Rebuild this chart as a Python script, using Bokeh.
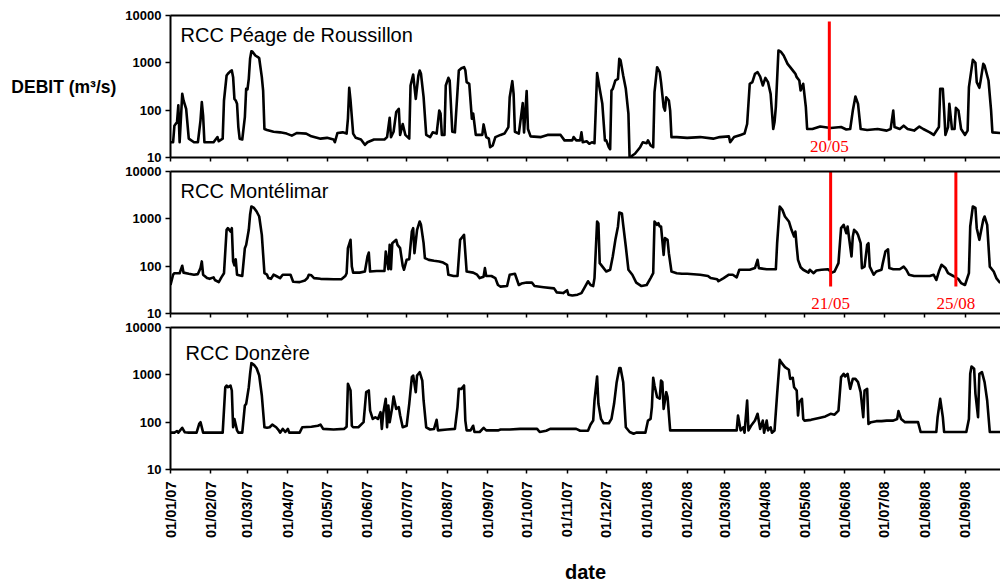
import math
import pandas as pd
from bokeh.plotting import figure
from bokeh.models import (ColumnDataSource, FixedTicker, DatetimeTickFormatter,
                          DatetimeAxis, Label, Range1d, BasicTickFormatter)
from bokeh.layouts import column
from bokeh.embed import file_html
from bokeh.resources import INLINE

# ---------------- data ----------------
station_names = ["RCC Péage de Roussillon", "RCC Montélimar", "RCC Donzère"]
y_label = "DEBIT (m³/s)"
x_label = "date"
y_ticks = [10, 100, 1000, 10000]
tick_dates = ["2007-01-01", "2007-02-01", "2007-03-01", "2007-04-01", "2007-05-01",
              "2007-06-01", "2007-07-01", "2007-08-01", "2007-09-01", "2007-10-01",
              "2007-11-01", "2007-12-01", "2008-01-01", "2008-02-01", "2008-03-01",
              "2008-04-01", "2008-05-01", "2008-06-01", "2008-07-01", "2008-08-01",
              "2008-09-01"]

peage_dates = [
    "2007-01-01", "2007-01-03", "2007-01-04", "2007-01-06", "2007-01-07", "2007-01-08", "2007-01-10", "2007-01-11",
    "2007-01-13", "2007-01-15", "2007-01-19", "2007-01-22", "2007-01-24", "2007-01-25", "2007-01-26", "2007-01-27",
    "2007-02-03", "2007-02-06", "2007-02-07", "2007-02-10", "2007-02-11", "2007-02-13", "2007-02-14", "2007-02-16",
    "2007-02-17", "2007-02-18", "2007-02-19", "2007-02-20", "2007-02-21", "2007-02-22", "2007-02-23", "2007-02-25",
    "2007-02-27", "2007-02-28", "2007-03-01", "2007-03-02", "2007-03-03", "2007-03-04", "2007-03-05", "2007-03-07",
    "2007-03-09", "2007-03-10", "2007-03-12", "2007-03-13", "2007-03-14", "2007-03-16", "2007-03-21", "2007-03-26",
    "2007-03-31", "2007-04-04", "2007-04-08", "2007-04-15", "2007-04-19", "2007-04-26", "2007-05-01", "2007-05-06",
    "2007-05-07", "2007-05-09", "2007-05-13", "2007-05-16", "2007-05-17", "2007-05-18", "2007-05-19", "2007-05-21",
    "2007-05-23", "2007-05-27", "2007-05-30", "2007-06-01", "2007-06-06", "2007-06-14", "2007-06-16", "2007-06-18",
    "2007-06-19", "2007-06-21", "2007-06-23", "2007-06-25", "2007-06-26", "2007-06-28", "2007-06-30", "2007-07-03",
    "2007-07-04", "2007-07-06", "2007-07-08", "2007-07-10", "2007-07-11", "2007-07-12", "2007-07-14", "2007-07-16",
    "2007-07-19", "2007-07-21", "2007-07-24", "2007-07-26", "2007-07-27", "2007-07-28", "2007-07-30", "2007-07-31",
    "2007-08-02", "2007-08-03", "2007-08-05", "2007-08-07", "2007-08-10", "2007-08-12", "2007-08-14", "2007-08-15",
    "2007-08-16", "2007-08-18", "2007-08-20", "2007-08-21", "2007-08-23", "2007-08-28", "2007-08-29", "2007-08-31",
    "2007-09-02", "2007-09-03", "2007-09-05", "2007-09-07", "2007-09-11", "2007-09-14", "2007-09-17", "2007-09-18",
    "2007-09-20", "2007-09-21", "2007-09-22", "2007-09-25", "2007-09-28", "2007-09-29", "2007-10-01", "2007-10-02",
    "2007-10-04", "2007-10-12", "2007-10-17", "2007-10-27", "2007-10-30", "2007-11-05", "2007-11-06", "2007-11-08",
    "2007-11-11", "2007-11-12", "2007-11-13", "2007-11-16", "2007-11-18", "2007-11-20", "2007-11-22", "2007-11-23",
    "2007-11-24", "2007-11-26", "2007-11-28", "2007-11-30", "2007-12-01", "2007-12-03", "2007-12-04", "2007-12-05",
    "2007-12-06", "2007-12-08", "2007-12-10", "2007-12-11", "2007-12-12", "2007-12-14", "2007-12-16", "2007-12-18",
    "2007-12-19", "2007-12-21", "2007-12-23", "2007-12-27", "2007-12-29", "2008-01-01", "2008-01-02", "2008-01-04",
    "2008-01-06", "2008-01-07", "2008-01-09", "2008-01-11", "2008-01-12", "2008-01-14", "2008-01-15", "2008-01-16",
    "2008-01-18", "2008-01-19", "2008-01-20", "2008-01-24", "2008-02-01", "2008-02-11", "2008-02-21", "2008-02-26",
    "2008-03-04", "2008-03-05", "2008-03-08", "2008-03-13", "2008-03-16", "2008-03-18", "2008-03-20", "2008-03-22",
    "2008-03-24", "2008-03-26", "2008-03-28", "2008-03-30", "2008-04-01", "2008-04-03", "2008-04-05", "2008-04-07",
    "2008-04-08", "2008-04-09", "2008-04-11", "2008-04-13", "2008-04-15", "2008-04-18", "2008-04-20", "2008-04-23",
    "2008-04-24", "2008-04-25", "2008-04-27", "2008-04-28", "2008-04-30", "2008-05-02", "2008-05-03", "2008-05-07",
    "2008-05-13", "2008-05-21", "2008-05-29", "2008-06-02", "2008-06-05", "2008-06-07", "2008-06-09", "2008-06-11",
    "2008-06-13", "2008-06-18", "2008-06-26", "2008-07-03", "2008-07-06", "2008-07-08", "2008-07-09", "2008-07-13",
    "2008-07-16", "2008-07-19", "2008-07-24", "2008-07-28", "2008-07-31", "2008-08-05", "2008-08-08", "2008-08-12",
    "2008-08-13", "2008-08-15", "2008-08-16", "2008-08-17", "2008-08-19", "2008-08-20", "2008-08-22", "2008-08-24",
    "2008-08-25", "2008-08-27", "2008-08-29", "2008-09-01", "2008-09-03", "2008-09-04", "2008-09-06", "2008-09-07",
    "2008-09-09", "2008-09-10", "2008-09-12", "2008-09-13", "2008-09-15", "2008-09-16", "2008-09-19", "2008-09-21",
    "2008-09-22", "2008-09-28"]
peage_flow = [
    21, 21, 47, 56, 126, 21, 221, 160,
    107, 25, 21, 21, 61, 148, 77, 21,
    21, 27, 22, 25, 160, 540, 587, 667,
    690, 498, 173, 160, 136, 44, 25, 24,
    71, 282, 275, 459, 1216, 1762, 1700, 1429,
    1324, 1250, 498, 260, 40, 38, 35, 34,
    32, 29, 33, 32, 28, 25, 26, 24,
    21, 33, 34, 32, 66, 297, 160, 32,
    26, 24, 18.5, 21, 24, 24, 27, 69,
    27, 35, 91, 107, 30, 51, 30, 25,
    332, 567, 173, 540, 690, 587, 188, 30,
    27, 34, 32, 98, 85, 30, 30, 332,
    482, 424, 35, 34, 690, 771, 812, 700,
    391, 360, 66, 85, 30, 30, 50, 27,
    25, 16.5, 18, 27, 30, 32, 44, 188,
    410, 221, 35, 32, 141, 34, 252, 40,
    28, 27, 30, 30, 23, 23, 27, 23,
    23, 34, 21, 22, 19.5, 21, 20, 107,
    605, 282, 136, 23, 23, 16.5, 15, 260,
    282, 424, 460, 1216, 1127, 540, 282, 84,
    8, 11, 12, 16.5, 21, 20, 23, 18,
    16.5, 240, 809, 635, 391, 116, 98, 188,
    160, 98, 27, 27, 26, 27, 25, 27,
    28, 21, 27, 30, 32, 51, 360, 391,
    587, 635, 512, 332, 480, 391, 221, 40,
    56, 116, 1824, 1700, 1429, 952, 812, 635,
    587, 498, 424, 260, 360, 116, 40, 40,
    45, 42, 44, 39, 40, 98, 194, 136,
    40, 38, 40, 37, 40, 98, 44, 40,
    47, 40, 37, 45, 40, 34, 30, 44,
    282, 282, 98, 30, 44, 136, 40, 40,
    112, 98, 40, 30, 37, 306, 747, 1155,
    1000, 391, 297, 424, 952, 880, 424, 98,
    34, 33]

montelimar_dates = [
    "2007-01-01", "2007-01-03", "2007-01-04", "2007-01-08", "2007-01-10", "2007-01-11", "2007-01-15", "2007-01-19",
    "2007-01-22", "2007-01-24", "2007-01-25", "2007-01-26", "2007-01-29", "2007-01-31", "2007-02-03", "2007-02-04",
    "2007-02-07", "2007-02-09", "2007-02-11", "2007-02-13", "2007-02-14", "2007-02-16", "2007-02-17", "2007-02-18",
    "2007-02-19", "2007-02-20", "2007-02-21", "2007-02-25", "2007-02-27", "2007-02-28", "2007-03-02", "2007-03-03",
    "2007-03-04", "2007-03-06", "2007-03-08", "2007-03-10", "2007-03-12", "2007-03-14", "2007-03-16", "2007-03-17",
    "2007-03-19", "2007-03-21", "2007-03-23", "2007-03-26", "2007-03-28", "2007-04-03", "2007-04-05", "2007-04-10",
    "2007-04-14", "2007-04-16", "2007-04-17", "2007-04-19", "2007-04-21", "2007-04-26", "2007-05-06", "2007-05-12",
    "2007-05-15", "2007-05-16", "2007-05-17", "2007-05-19", "2007-05-20", "2007-05-21", "2007-05-26", "2007-05-30",
    "2007-06-01", "2007-06-02", "2007-06-03", "2007-06-08", "2007-06-14", "2007-06-15", "2007-06-17", "2007-06-18",
    "2007-06-19", "2007-06-20", "2007-06-23", "2007-06-24", "2007-06-26", "2007-06-28", "2007-06-29", "2007-07-01",
    "2007-07-03", "2007-07-05", "2007-07-06", "2007-07-07", "2007-07-09", "2007-07-11", "2007-07-12", "2007-07-14",
    "2007-07-15", "2007-07-18", "2007-07-22", "2007-07-26", "2007-07-29", "2007-08-01", "2007-08-02", "2007-08-06",
    "2007-08-09", "2007-08-11", "2007-08-13", "2007-08-14", "2007-08-16", "2007-08-21", "2007-08-24", "2007-08-26",
    "2007-08-29", "2007-08-30", "2007-08-31", "2007-09-04", "2007-09-07", "2007-09-09", "2007-09-11", "2007-09-16",
    "2007-09-18", "2007-09-22", "2007-09-25", "2007-09-27", "2007-10-01", "2007-10-05", "2007-10-07", "2007-10-14",
    "2007-10-22", "2007-10-24", "2007-10-29", "2007-11-01", "2007-11-02", "2007-11-05", "2007-11-09", "2007-11-12",
    "2007-11-15", "2007-11-17", "2007-11-19", "2007-11-21", "2007-11-22", "2007-11-24", "2007-11-25", "2007-11-26",
    "2007-11-29", "2007-12-01", "2007-12-04", "2007-12-06", "2007-12-08", "2007-12-10", "2007-12-11", "2007-12-13",
    "2007-12-14", "2007-12-16", "2007-12-18", "2007-12-21", "2007-12-24", "2007-12-28", "2008-01-01", "2008-01-04",
    "2008-01-06", "2008-01-07", "2008-01-09", "2008-01-10", "2008-01-11", "2008-01-12", "2008-01-14", "2008-01-15",
    "2008-01-17", "2008-01-18", "2008-01-20", "2008-01-24", "2008-01-28", "2008-02-01", "2008-02-11", "2008-02-17",
    "2008-02-19", "2008-02-24", "2008-02-25", "2008-02-29", "2008-03-04", "2008-03-07", "2008-03-10", "2008-03-12",
    "2008-03-20", "2008-03-24", "2008-03-26", "2008-03-27", "2008-04-02", "2008-04-09", "2008-04-10", "2008-04-12",
    "2008-04-14", "2008-04-16", "2008-04-19", "2008-04-21", "2008-04-23", "2008-04-24", "2008-04-25", "2008-04-26",
    "2008-04-28", "2008-04-30", "2008-05-04", "2008-05-05", "2008-05-08", "2008-05-10", "2008-05-14", "2008-05-19",
    "2008-05-22", "2008-05-24", "2008-05-27", "2008-05-29", "2008-05-31", "2008-06-02", "2008-06-03", "2008-06-04",
    "2008-06-06", "2008-06-07", "2008-06-08", "2008-06-10", "2008-06-11", "2008-06-13", "2008-06-14", "2008-06-16",
    "2008-06-18", "2008-06-19", "2008-06-20", "2008-06-23", "2008-06-25", "2008-06-29", "2008-06-30", "2008-07-02",
    "2008-07-04", "2008-07-05", "2008-07-08", "2008-07-13", "2008-07-16", "2008-07-18", "2008-07-20", "2008-07-24",
    "2008-07-31", "2008-08-05", "2008-08-08", "2008-08-10", "2008-08-12", "2008-08-14", "2008-08-17", "2008-08-19",
    "2008-08-23", "2008-08-27", "2008-08-29", "2008-09-01", "2008-09-04", "2008-09-05", "2008-09-07", "2008-09-09",
    "2008-09-10", "2008-09-12", "2008-09-15", "2008-09-16", "2008-09-18", "2008-09-20", "2008-09-23", "2008-09-25",
    "2008-09-28"]
montelimar_flow = [
    40, 66, 71, 71, 102, 73, 69, 66,
    68, 91, 126, 66, 56, 54, 58, 51,
    46, 58, 71, 587, 635, 540, 635, 126,
    104, 140, 66, 62, 240, 282, 587, 1216,
    1824, 1700, 1429, 1120, 459, 71, 66, 56,
    54, 66, 62, 56, 66, 66, 47, 46,
    50, 56, 66, 64, 56, 54, 53, 53,
    62, 71, 240, 360, 98, 73, 73, 77,
    160, 194, 77, 79, 79, 204, 86, 282,
    86, 306, 360, 282, 240, 102, 84, 136,
    140, 540, 635, 188, 587, 880, 747, 306,
    148, 136, 130, 126, 119, 107, 66, 62,
    62, 360, 424, 460, 77, 73, 66, 56,
    60, 91, 62, 62, 56, 40, 37, 38,
    66, 69, 40, 43, 45, 45, 38, 36,
    34, 28, 27, 31, 25, 24, 25, 27,
    38, 48, 40, 38, 56, 880, 800, 116,
    91, 77, 84, 160, 360, 689, 1361, 1300,
    747, 260, 84, 66, 45, 38, 40, 56,
    71, 880, 747, 810, 690, 690, 173, 391,
    360, 188, 77, 71, 69, 69, 66, 62,
    56, 53, 48, 56, 66, 66, 58, 84,
    84, 91, 136, 91, 86, 86, 306, 1824,
    1550, 1120, 880, 587, 424, 540, 260, 136,
    95, 84, 73, 84, 71, 81, 84, 86,
    73, 77, 116, 635, 747, 498, 690, 424,
    160, 424, 587, 514, 460, 306, 91, 98,
    282, 306, 98, 66, 77, 84, 116, 204,
    227, 91, 86, 86, 98, 84, 66, 62,
    62, 62, 66, 51, 77, 107, 91, 71,
    62, 53, 44, 40, 71, 689, 1824, 1700,
    635, 360, 952, 1120, 747, 98, 77, 56,
    44]

donzere_dates = [
    "2007-01-01", "2007-01-04", "2007-01-06", "2007-01-07", "2007-01-10", "2007-01-12", "2007-01-15", "2007-01-21",
    "2007-01-23", "2007-01-24", "2007-01-26", "2007-02-03", "2007-02-10", "2007-02-12", "2007-02-13", "2007-02-14",
    "2007-02-16", "2007-02-17", "2007-02-18", "2007-02-19", "2007-02-21", "2007-02-22", "2007-02-25", "2007-02-27",
    "2007-02-28", "2007-03-02", "2007-03-03", "2007-03-04", "2007-03-06", "2007-03-08", "2007-03-10", "2007-03-12",
    "2007-03-14", "2007-03-16", "2007-03-18", "2007-03-20", "2007-03-23", "2007-03-25", "2007-03-26", "2007-03-28",
    "2007-03-30", "2007-04-01", "2007-04-02", "2007-04-10", "2007-04-12", "2007-04-19", "2007-04-24", "2007-04-26",
    "2007-04-28", "2007-05-06", "2007-05-14", "2007-05-16", "2007-05-17", "2007-05-19", "2007-05-20", "2007-05-21",
    "2007-05-25", "2007-05-29", "2007-05-31", "2007-06-02", "2007-06-03", "2007-06-05", "2007-06-07", "2007-06-09",
    "2007-06-11", "2007-06-12", "2007-06-13", "2007-06-15", "2007-06-16", "2007-06-17", "2007-06-18", "2007-06-20",
    "2007-06-21", "2007-06-23", "2007-06-25", "2007-06-26", "2007-06-28", "2007-07-01", "2007-07-03", "2007-07-05",
    "2007-07-06", "2007-07-08", "2007-07-09", "2007-07-11", "2007-07-13", "2007-07-14", "2007-07-16", "2007-07-19",
    "2007-07-22", "2007-07-24", "2007-07-25", "2007-08-01", "2007-08-07", "2007-08-09", "2007-08-10", "2007-08-12",
    "2007-08-14", "2007-08-15", "2007-08-16", "2007-08-19", "2007-08-21", "2007-08-22", "2007-08-26", "2007-08-29",
    "2007-08-31", "2007-09-05", "2007-09-09", "2007-09-11", "2007-09-18", "2007-09-26", "2007-10-09", "2007-10-11",
    "2007-10-16", "2007-10-19", "2007-11-08", "2007-11-11", "2007-11-17", "2007-11-19", "2007-11-21", "2007-11-22",
    "2007-11-24", "2007-11-25", "2007-11-27", "2007-11-29", "2007-12-03", "2007-12-05", "2007-12-07", "2007-12-09",
    "2007-12-11", "2007-12-12", "2007-12-14", "2007-12-16", "2007-12-19", "2007-12-22", "2007-12-24", "2007-12-31",
    "2008-01-02", "2008-01-04", "2008-01-05", "2008-01-06", "2008-01-07", "2008-01-09", "2008-01-11", "2008-01-12",
    "2008-01-13", "2008-01-14", "2008-01-16", "2008-01-17", "2008-01-19", "2008-01-27", "2008-03-10", "2008-03-11",
    "2008-03-13", "2008-03-15", "2008-03-16", "2008-03-18", "2008-03-19", "2008-03-21", "2008-03-24", "2008-03-26",
    "2008-03-28", "2008-03-30", "2008-03-31", "2008-04-02", "2008-04-03", "2008-04-05", "2008-04-06", "2008-04-08",
    "2008-04-10", "2008-04-12", "2008-04-13", "2008-04-16", "2008-04-19", "2008-04-20", "2008-04-22", "2008-04-23",
    "2008-04-25", "2008-04-26", "2008-04-27", "2008-04-29", "2008-04-30", "2008-05-01", "2008-05-06", "2008-05-13",
    "2008-05-17", "2008-05-21", "2008-05-24", "2008-05-27", "2008-05-29", "2008-05-31", "2008-06-01", "2008-06-03",
    "2008-06-05", "2008-06-07", "2008-06-09", "2008-06-11", "2008-06-13", "2008-06-15", "2008-06-16", "2008-06-18",
    "2008-06-19", "2008-06-21", "2008-06-25", "2008-06-29", "2008-07-03", "2008-07-08", "2008-07-11", "2008-07-12",
    "2008-07-14", "2008-07-17", "2008-07-27", "2008-07-29", "2008-08-10", "2008-08-11", "2008-08-13", "2008-08-15",
    "2008-08-16", "2008-09-02", "2008-09-04", "2008-09-05", "2008-09-06", "2008-09-08", "2008-09-09", "2008-09-11",
    "2008-09-12", "2008-09-14", "2008-09-16", "2008-09-18", "2008-09-20", "2008-09-28"]
donzere_flow = [
    60, 60, 65, 60, 76, 61, 60, 60,
    92, 100, 60, 60, 60, 548, 594, 548,
    594, 467, 78, 117, 67, 60, 60, 225,
    244, 548, 1050, 1764, 1620, 1380, 968, 366,
    78, 76, 78, 89, 78, 67, 60, 72,
    62, 72, 60, 60, 78, 80, 84, 89,
    72, 70, 72, 80, 645, 467, 84, 78,
    78, 100, 430, 467, 176, 117, 127, 117,
    163, 72, 150, 311, 78, 225, 100, 208,
    349, 191, 208, 140, 78, 84, 244, 893,
    968, 430, 968, 1137, 758, 287, 78, 70,
    72, 112, 67, 70, 72, 208, 506, 506,
    596, 108, 67, 67, 84, 62, 62, 76,
    67, 67, 67, 70, 70, 72, 72, 62,
    66, 72, 72, 66, 66, 89, 108, 287,
    922, 244, 117, 95, 95, 117, 244, 700,
    1383, 1383, 700, 78, 62, 57, 60, 60,
    108, 117, 208, 865, 596, 337, 315, 758,
    700, 191, 430, 337, 67, 67, 67, 138,
    67, 78, 60, 287, 67, 84, 108, 150,
    72, 108, 60, 108, 67, 78, 60, 67,
    397, 2075, 1853, 1452, 1280, 822, 865, 548,
    467, 138, 265, 311, 117, 108, 112, 124,
    132, 150, 144, 176, 893, 1050, 922, 1050,
    506, 822, 822, 700, 430, 128, 467, 506,
    92, 100, 105, 105, 108, 108, 117, 171,
    117, 100, 100, 62, 62, 128, 311, 128,
    62, 62, 117, 1050, 1500, 1340, 397, 128,
    1050, 1137, 700, 287, 62, 62]

# red event markers
peage_event_dates = ["2008-05-20"]
peage_event_labels = ["20/05"]
montelimar_event_dates = ["2008-05-21", "2008-08-25"]
montelimar_event_labels = ["21/05", "25/08"]

assert len(peage_dates) == len(peage_flow)
assert len(montelimar_dates) == len(montelimar_flow)
assert len(donzere_dates) == len(donzere_flow)

# ---------------- styling / layout ----------------
SANS = "Liberation Sans"
SERIF = "Liberation Serif"
RED = "#ff0000"
WIDTH = 1000
LEFT = 170


def ms(s):
    return pd.Timestamp(s).value / 1e6


x_range = Range1d(start=ms("2007-01-01"), end=ms("2008-09-28 05:00"))
date_fmt = "%d/%m/%y"
formatter = DatetimeTickFormatter(
    microseconds=date_fmt, milliseconds=date_fmt, seconds=date_fmt, minsec=date_fmt,
    minutes=date_fmt, hourmin=date_fmt, hours=date_fmt, days=date_fmt,
    months=date_fmt, years=date_fmt)


def make_panel(dates, flows, title, title_x, title_y, height, border_top,
               border_bottom, show_labels):
    p = figure(width=WIDTH, height=height, x_axis_type="datetime", y_axis_type="log",
               x_range=x_range, y_range=Range1d(10, 10000),
               output_backend="svg", toolbar_location=None,
               min_border_left=LEFT, min_border_right=0, min_border_top=border_top,
               min_border_bottom=border_bottom,
               background_fill_color="white", border_fill_color="white",
               outline_line_color=None)
    p.xgrid.visible = False
    p.ygrid.visible = False

    src = ColumnDataSource(dict(date=pd.to_datetime(dates), q=flows))
    p.line("date", "q", source=src, line_color="black", line_width=2.6,
           line_join="round")

    ya = p.yaxis[0]
    ya.ticker = FixedTicker(ticks=y_ticks, minor_ticks=[])
    ya.formatter = BasicTickFormatter()
    ya.major_label_overrides = {t: str(t) for t in y_ticks}
    ya.major_label_text_font = SANS
    ya.major_label_text_font_size = "13px"
    ya.major_label_text_font_style = "bold"
    ya.major_label_text_color = "black"
    ya.major_label_standoff = 4
    ya.axis_line_color = "black"
    ya.axis_line_width = 2
    ya.major_tick_out = 5
    ya.major_tick_in = 0
    ya.major_tick_line_width = 1.5
    ya.minor_tick_out = 0
    ya.minor_tick_in = 0

    xa = p.xaxis[0]
    xa.ticker = FixedTicker(ticks=[ms(d) for d in tick_dates], minor_ticks=[])
    xa.formatter = formatter
    xa.axis_line_color = "black"
    xa.axis_line_width = 2
    xa.major_tick_out = 4
    xa.major_tick_in = 0
    xa.major_tick_line_width = 1.5
    xa.minor_tick_out = 0
    xa.minor_tick_in = 0
    if show_labels:
        xa.major_label_orientation = math.pi / 2
        xa.major_label_text_font = SANS
        xa.major_label_text_font_size = "14.5px"
        xa.major_label_text_font_style = "bold"
        xa.major_label_text_color = "black"
        xa.major_label_standoff = 8
        xa.axis_label = x_label
        xa.axis_label_text_font = SANS
        xa.axis_label_text_font_size = "20px"
        xa.axis_label_text_font_style = "bold"
        xa.axis_label_text_color = "black"
        xa.axis_label_standoff = 20
    else:
        # ticks only: labels are not painted at all
        xa.major_label_text_font_size = "1px"
        xa.major_label_text_color = None
        xa.major_label_text_alpha = 0
        xa.major_label_standoff = 0

    top = DatetimeAxis(ticker=FixedTicker(ticks=[], minor_ticks=[]),
                       major_label_text_color=None, major_label_standoff=0,
                       major_tick_out=0, major_tick_in=0,
                       minor_tick_out=0, minor_tick_in=0,
                       axis_line_color="black", axis_line_width=2)
    p.add_layout(top, "above")

    p.add_layout(Label(x=title_x, y=title_y, x_units="screen", y_units="screen",
                       text=title, text_font=SANS, text_font_size="20px",
                       text_color="black", text_baseline="alphabetic",
                       text_align="left"))
    return p


p1 = make_panel(peage_dates, peage_flow, station_names[0], 10, 123, 164, 15, 7, False)
p2 = make_panel(montelimar_dates, montelimar_flow, station_names[1], 10, 123, 156, 7, 7, False)
p3 = make_panel(donzere_dates, donzere_flow, station_names[2], 15, 117, 265, 7, 116, True)

# y label: horizontal, left of the first panel
ya1 = p1.yaxis[0]
ya1.axis_label = y_label
ya1.axis_label_text_font = SANS
ya1.axis_label_text_font_size = "17.5px"
ya1.axis_label_text_font_style = "bold"
ya1.axis_label_text_color = "black"
ya1.axis_label_standoff = 6
try:
    ya1.axis_label_orientation = "horizontal"
except Exception:
    pass

# red event markers
ev1 = [ms(d) for d in peage_event_dates]
p1.segment(x0=ev1, y0=[23] * len(ev1), x1=ev1, y1=[7500] * len(ev1),
           line_color=RED, line_width=3)
for x, t in zip(ev1, peage_event_labels):
    p1.add_layout(Label(x=x, y=11, y_units="screen", text=t, text_font=SERIF,
                        text_font_size="17px", text_color=RED,
                        text_align="center", text_baseline="alphabetic"))

ev2 = [ms(d) for d in montelimar_event_dates]
p2.segment(x0=ev2, y0=[37] * len(ev2), x1=ev2, y1=[12000] * len(ev2),
           line_color=RED, line_width=3)
for x, t in zip(ev2, montelimar_event_labels):
    p2.add_layout(Label(x=x, y=10, y_units="screen", text=t, text_font=SERIF,
                        text_font_size="17px", text_color=RED,
                        text_align="center", text_baseline="alphabetic"))

layout = column(p1, p2, p3, spacing=0)
open("out.html", "w").write(file_html(layout, INLINE))
